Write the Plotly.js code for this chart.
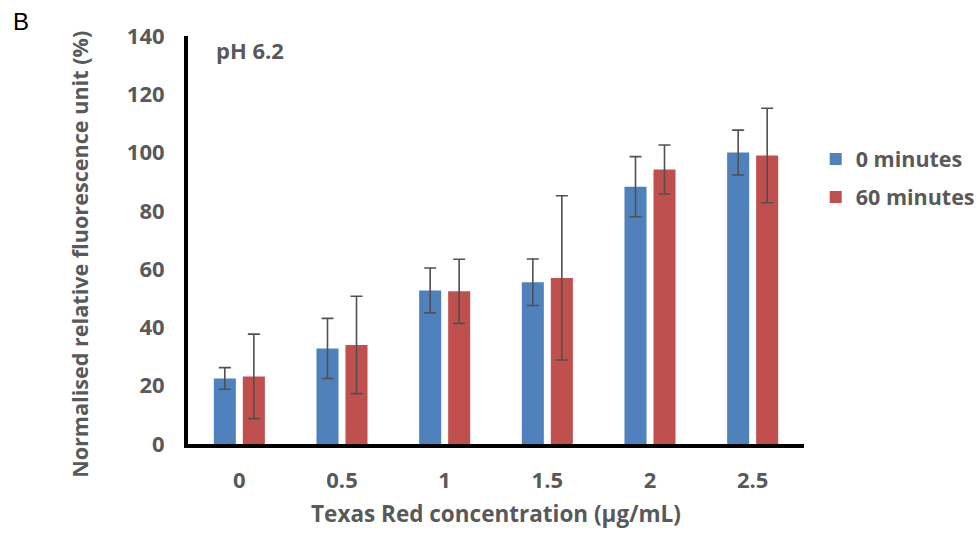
<!DOCTYPE html>
<html>
<head>
<meta charset="utf-8">
<script src="https://cdn.plot.ly/plotly-3.0.1.min.js"></script>
<style>
  html, body { margin: 0; padding: 0; background: #fff; }
  #chart { width: 977px; height: 540px; }
</style>
</head>
<body>
<div id="chart"></div>
<script>
// Texas Red concentrations (µg/mL)
const concentrations = ['0', '0.5', '1', '1.5', '2', '2.5'];

// Normalised relative fluorescence (%) at pH 6.2
const series0Name = '0 minutes';
const series0Values = [22.5, 32.8, 52.7, 55.5, 88.3, 100];
const series0Errors = [3.7, 10.3, 7.7, 8.0, 10.3, 7.7];

const series60Name = '60 minutes';
const series60Values = [23.2, 34.0, 52.4, 57.0, 94.2, 99.0];
const series60Errors = [14.5, 16.7, 11.0, 28.2, 8.4, 16.2];

const yTickValues = [0, 20, 40, 60, 80, 100, 120, 140];

const FONT = '"Open Sans", Lato, sans-serif';
const GREY = '#595959';

function barTrace(name, values, errors, color) {
  return {
    type: 'bar',
    name: name,
    legendgroup: name,
    x: concentrations,
    y: values,
    marker: { color: color, line: { width: 0 } },
    error_y: {
      type: 'data',
      array: errors,
      visible: true,
      color: '#505050',
      thickness: 1.6,
      width: 6
    }
  };
}

const data = [
  barTrace(series0Name, series0Values, series0Errors, '#4F81BD'),
  barTrace(series60Name, series60Values, series60Errors, '#C0504D')
];

const boldFont = (size) => ({ family: FONT, color: GREY, size: size, weight: 'bold' });

const layout = {
  width: 977,
  height: 540,
  margin: { l: 188, r: 173, t: 36, b: 96, autoexpand: false },
  paper_bgcolor: '#ffffff',
  plot_bgcolor: '#ffffff',
  barmode: 'group',
  bargap: 0.435,
  bargroupgap: 0.24,
  font: { family: FONT, color: GREY, size: 22 },
  xaxis: {
    type: 'category',
    range: [-0.5, 5.5],
    showgrid: false,
    zeroline: false,
    showline: true,
    linecolor: '#000000',
    linewidth: 4,
    ticks: '',
    ticklabelstandoff: 14,
    tickfont: boldFont(22),
    title: {
      text: 'Texas Red concentration (µg/mL)',
      font: boldFont(22.5),
      standoff: 14
    },
    automargin: false,
    fixedrange: true
  },
  yaxis: {
    range: [0, 140],
    tickvals: yTickValues,
    showgrid: false,
    zeroline: false,
    showline: true,
    linecolor: '#000000',
    linewidth: 4,
    ticks: '',
    ticklabelstandoff: 15,
    tickfont: boldFont(22),
    automargin: false,
    fixedrange: true
  },
  legend: {
    x: 1.019,
    xanchor: 'left',
    y: 0.652,
    yanchor: 'middle',
    font: boldFont(21.5),
    itemwidth: 30,
    traceorder: 'grouped',
    tracegroupgap: 7,
    bgcolor: 'rgba(0,0,0,0)'
  },
  showlegend: true,
  annotations: [
    {
      text: 'Normalised relative fluorescence unit (%)',
      xref: 'paper', yref: 'paper',
      x: -0.176, y: 0.465,
      xanchor: 'center', yanchor: 'middle',
      textangle: -90,
      showarrow: false,
      font: boldFont(21.6)
    },
    {
      text: 'pH 6.2',
      xref: 'paper', yref: 'paper',
      x: 0.042, y: 0.966,
      xanchor: 'left', yanchor: 'middle',
      showarrow: false,
      font: boldFont(22)
    },
    {
      text: 'B',
      xref: 'paper', yref: 'paper',
      x: -0.287, y: 1.035,
      xanchor: 'left', yanchor: 'middle',
      showarrow: false,
      font: { family: '"Liberation Sans", Arial, sans-serif', color: '#000000', size: 24 }
    }
  ]
};

Plotly.newPlot('chart', data, layout, { displayModeBar: false, staticPlot: true });
</script>
</body>
</html>
